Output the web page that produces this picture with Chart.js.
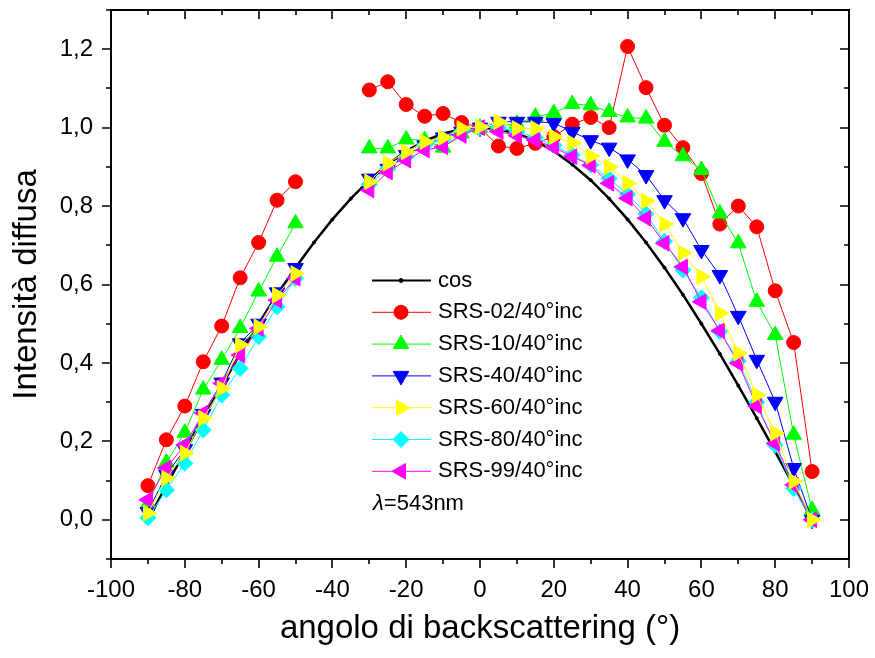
<!DOCTYPE html>
<html><head><meta charset="utf-8">
<script src="https://cdn.jsdelivr.net/npm/chart.js@4.4.1/dist/chart.umd.min.js"></script>
<style>html,body{margin:0;padding:0;background:#fff;}#wrap{width:875px;height:658px;}</style>
</head><body><div id="wrap"><canvas id="c" width="875" height="658"></canvas></div>
<script>
const angles = [-90,-85,-80,-75,-70,-65,-60,-55,-50,-45,-40,-35,-30,-25,-20,-15,-10,-5,0,5,10,15,20,25,30,35,40,45,50,55,60,65,70,75,80,85,90];
const cosCurve = [0.000,0.087,0.174,0.259,0.342,0.423,0.500,0.574,0.643,0.707,0.766,0.819,0.866,0.906,0.940,0.966,0.985,0.996,1.000,0.996,0.985,0.966,0.940,0.906,0.866,0.819,0.766,0.707,0.643,0.574,0.500,0.423,0.342,0.259,0.174,0.087,0.000];
const srs02 = [0.087,0.204,0.290,0.403,0.494,0.617,0.707,0.815,0.862,null,null,null,1.096,1.117,1.059,1.029,1.036,1.013,1.000,0.953,0.947,0.960,0.977,1.009,1.026,1.000,1.207,1.102,1.006,0.949,0.883,0.754,0.800,0.747,0.584,0.452,0.123];
const srs10 = [0.040,0.146,0.222,0.332,0.408,0.489,0.582,0.671,0.756,null,null,null,0.947,0.947,0.970,0.968,0.949,0.985,1.000,1.005,1.010,1.028,1.037,1.060,1.057,1.040,1.026,1.023,0.964,0.927,0.892,0.781,0.705,0.556,0.471,0.217,0.025];
const srs40 = [0.020,0.115,0.180,0.270,0.350,0.450,0.500,0.580,0.642,null,null,null,0.870,0.895,0.930,0.955,0.975,0.990,1.000,1.015,1.015,1.015,1.012,0.989,0.968,0.949,0.919,0.879,0.815,0.769,0.688,0.624,0.520,0.408,0.301,0.132,0.000];
const srs60 = [0.017,0.106,0.170,0.259,0.335,0.446,0.492,0.573,0.628,null,null,null,0.862,0.909,0.938,0.964,0.975,0.998,1.002,1.015,0.998,0.998,0.977,0.961,0.927,0.900,0.858,0.813,0.754,0.681,0.620,0.527,0.425,0.318,0.221,0.098,0.000];
const srs80 = [0.005,0.076,0.144,0.229,0.318,0.386,0.467,0.543,0.616,null,null,null,0.855,0.895,0.925,0.955,0.970,0.990,1.000,1.000,0.990,0.975,0.955,0.930,0.905,0.870,0.830,0.780,0.710,0.637,0.566,0.480,0.405,0.300,0.190,0.080,0.000];
const srs99 = [0.051,0.132,0.191,0.272,0.348,0.420,0.488,0.560,0.616,null,null,null,0.841,0.887,0.917,0.943,0.951,0.980,1.000,0.990,0.980,0.968,0.950,0.926,0.904,0.858,0.820,0.769,0.705,0.645,0.556,0.482,0.399,0.290,0.195,0.089,0.000];
const seriesNames = ['cos','SRS-02/40°inc','SRS-10/40°inc','SRS-40/40°inc','SRS-60/40°inc','SRS-80/40°inc','SRS-99/40°inc'];
const wavelengthNote = '=543nm';
const xTitle = 'angolo di backscattering (°)';
const yTitle = 'Intensità diffusa';

const FONT = "'Liberation Sans', Arial, Helvetica, sans-serif";
Chart.defaults.font.family = FONT;
Chart.defaults.color = '#000';

const allValues = [cosCurve, srs02, srs10, srs40, srs60, srs80, srs99];
const looks = [
  {color:'#000000', style:'circle', rot:0, r:1.5, lw:2.5, order:10},
  {color:'#ff0000', style:'circle', rot:0, r:7, lw:1, order:9},
  {color:'#00ff00', style:'triangle', rot:0, r:9, lw:1, order:8},
  {color:'#0000ff', style:'triangle', rot:180, r:9, lw:1, order:7},
  {color:'#ffff00', style:'triangle', rot:90, r:9, lw:1, order:3},
  {color:'#00ffff', style:'rectRot', rot:0, r:8, lw:1, order:5},
  {color:'#ff00ff', style:'triangle', rot:-90, r:9, lw:1, order:4}
];

const datasets = allValues.map((vals, i) => ({
  label: seriesNames[i],
  data: angles.map((a, j) => ({x: a, y: vals[j]})),
  borderColor: looks[i].color,
  backgroundColor: looks[i].color,
  borderWidth: looks[i].lw,
  pointStyle: looks[i].style,
  pointRotation: looks[i].rot,
  pointRadius: looks[i].r,
  pointHoverRadius: looks[i].r,
  pointBorderWidth: 1,
  pointBorderColor: looks[i].color,
  pointBackgroundColor: looks[i].color,
  spanGaps: false,
  tension: 0,
  order: looks[i].order
}));

const framePlugin = {
  id: 'frameTicks',
  afterDraw(chart) {
    const ctx = chart.ctx;
    const a = chart.chartArea;
    const xs = chart.scales.x, ys = chart.scales.y;
    ctx.save();
    ctx.strokeStyle = '#000';
    ctx.lineWidth = 2;
    ctx.strokeRect(a.left, a.top, a.right - a.left, a.bottom - a.top);
    ctx.lineWidth = 1.6;
    ctx.beginPath();
    xs.ticks.forEach(t => {
      const px = Math.round(xs.getPixelForValue(t.value));
      const major = Math.round(t.value) % 20 === 0;
      const len = major ? 9 : 5;
      ctx.moveTo(px, a.bottom); ctx.lineTo(px, a.bottom + len);
      ctx.moveTo(px, a.top); ctx.lineTo(px, a.top + len);
    });
    ys.ticks.forEach(t => {
      const py = Math.round(ys.getPixelForValue(t.value));
      const major = Math.round(t.value * 10) % 2 === 0;
      const len = major ? 9 : 5;
      ctx.moveTo(a.left, py); ctx.lineTo(a.left - len, py);
      ctx.moveTo(a.right, py); ctx.lineTo(a.right - len, py);
    });
    ctx.stroke();

    // legend box inside the plot
    const lx0 = a.left + 261, lx1 = a.left + 320, mx = a.left + 290, tx = a.left + 327;
    const y0 = a.top + 270.5, dy = 31.8;
    ctx.font = '22px ' + FONT;
    ctx.textBaseline = 'middle';
    ctx.textAlign = 'left';
    chart.data.datasets.forEach((ds, i) => {
      const y = y0 + i * dy;
      ctx.strokeStyle = ds.borderColor;
      ctx.lineWidth = i === 0 ? 2 : 1;
      ctx.beginPath(); ctx.moveTo(lx0, y); ctx.lineTo(lx1, y); ctx.stroke();
      ctx.fillStyle = ds.pointBackgroundColor;
      ctx.strokeStyle = ds.pointBorderColor;
      ctx.lineWidth = 1;
      Chart.helpers.drawPoint(ctx, {pointStyle: ds.pointStyle, radius: i === 0 ? 2 : ds.pointRadius, rotation: ds.pointRotation, borderWidth: 1}, mx, y);
      ctx.fillStyle = '#000';
      ctx.fillText(ds.label, tx, y);
    });
    const yl = y0 + 7 * dy + 1;
    ctx.fillStyle = '#000';
    ctx.font = 'italic 22px ' + FONT;
    ctx.fillText('λ', a.left + 262, yl);
    const w = ctx.measureText('λ').width;
    ctx.font = '22px ' + FONT;
    ctx.fillText(wavelengthNote, a.left + 262 + w, yl);
    ctx.restore();
  }
};

new Chart(document.getElementById('c'), {
  type: 'line',
  data: { datasets },
  options: {
    responsive: false,
    animation: false,
    devicePixelRatio: 1,
    layout: { padding: { top: 10, right: 26, left: 0, bottom: 0 } },
    plugins: { legend: { display: false }, tooltip: { enabled: false } },
    scales: {
      x: {
        type: 'linear', position: 'bottom', min: -100, max: 100,
        grid: { display: false, drawTicks: false },
        border: { display: false },
        ticks: {
          stepSize: 10, autoSkip: false, maxRotation: 0, padding: 17,
          font: { size: 24 }, color: '#000',
          callback: v => (Math.round(v) % 20 === 0 ? String(Math.round(v)) : '')
        },
        title: { display: true, text: xTitle, font: { size: 33 }, color: '#000', padding: { top: 0, bottom: 9 } },
        afterFit: s => { s.height = 99; s.paddingLeft = 0; s.paddingRight = 0; }
      },
      y: {
        type: 'linear', position: 'left', min: -0.1, max: 1.3,
        grid: { display: false, drawTicks: false },
        border: { display: false },
        ticks: {
          stepSize: 0.1, autoSkip: false, padding: 18,
          font: { size: 24 }, color: '#000',
          callback: v => { const k = Math.round(v * 10); return (k >= 0 && k <= 12 && k % 2 === 0) ? (k / 10).toFixed(1).replace('.', ',') : ''; }
        },
        title: { display: true, text: yTitle, font: { size: 33 }, color: '#000', padding: { top: 7, bottom: 0 } },
        afterFit: s => { s.width = 111; s.paddingTop = 0; s.paddingBottom = 0; }
      }
    }
  },
  plugins: [framePlugin]
});
</script>
</body></html>
